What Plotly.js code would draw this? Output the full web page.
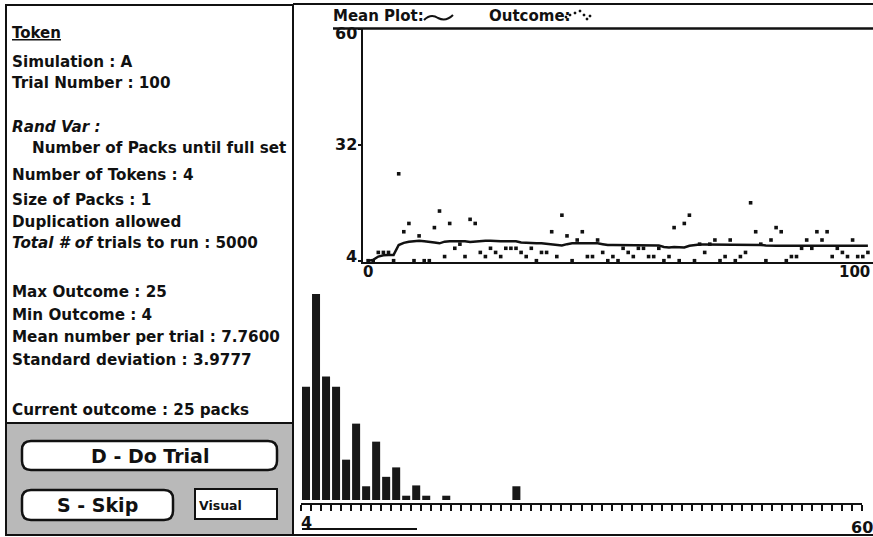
<!DOCTYPE html>
<html>
<head>
<meta charset="utf-8">
<script src="https://cdn.plot.ly/plotly-3.0.1.min.js"></script>
<style>
html,body{margin:0;padding:0;background:#fff;overflow:hidden;}
#chart{width:873px;height:537px;}
</style>
</head>
<body>
<div id="chart"></div>
<script>
// ---------- DATA ----------
const trials = [1,2,3,4,5,6,7,8,9,10,11,12,13,14,15,16,17,18,19,20,
  21,22,23,24,25,26,27,28,29,30,31,32,33,34,35,36,37,38,39,40,
  41,42,43,44,45,46,47,48,49,50,51,52,53,54,55,56,57,58,59,60,
  61,62,63,64,65,66,67,68,69,70,71,72,73,74,75,76,77,78,79,80,
  81,82,83,84,85,86,87,88,89,90,91,92,93,94,95,96,97,98,99];
const outcomes = [4,4,6,6,6,4,25,11,13,4, 10,4,4,12,16,5,13,7,8,5,
  14,13,6,5,7,6,5,7,7,7, 6,5,7,4,6,6,11,5,15,10,
  4,9,11,5,5,9,6,4,5,4, 7,6,5,7,7,5,5,7,4,5,
  12,4,13,15,4,8,6,8,9,4, 5,9,4,5,6,18,11,8,4,9,
  12,11,4,5,5,7,9,7,11,9, 11,5,7,6,5,9,5,5,6];
const meanPlot = [4.0,4.2,5.0,5.3,5.4,5.4,7.8,8.3,8.6,8.7, 8.8,8.7,8.6,8.4,8.2,8.6,8.7,8.7,8.8,8.7,
  8.5,8.6,8.8,8.8,8.8,8.7,8.7,8.7,8.7,8.7, 8.4,8.3,8.3,8.2,8.2,8.1,8.0,7.8,7.7,8.0,
  8.2,8.2,8.2,8.2,8.2,8.2,8.0,7.8,7.8,7.8, 7.8,7.8,7.8,7.8,7.8,7.8,7.8,7.7,7.3,7.2,
  7.3,7.3,7.2,7.6,7.8,7.9,7.9,7.9,7.9,7.9, 7.9,7.9,7.9,7.9,7.9,7.9,7.9,7.8,7.7,7.6,
  7.6,7.6,7.6,7.6,7.6,7.6,7.6,7.6,7.6,7.6, 7.6,7.6,7.6,7.6,7.6,7.6,7.6,7.6,7.6];
const histValues = [4,5,6,7,8,9,10,11,12,13,14,15,16,18,25];
const histHeights = [13.2,24,14.4,13.2,4.7,8.9,1.6,6.8,2.7,3.8,0.5,1.7,0.5,0.5,1.6];
const topYTicks = [4,32,60];
const topYLabels = ['4','32','60'];
const topXLabels = ['0','100'];
const histXLabels = ['4','60'];
const panelTitle = 'Token';
const panelLines = [
  'Simulation : A',
  'Trial Number : 100',
  '<i>Rand Var :</i>',
  'Number of Packs until full set',
  'Number of Tokens : 4',
  'Size of Packs : 1',
  'Duplication allowed',
  '<i>Total # of</i> trials to run : 5000',
  'Max Outcome : 25',
  'Min Outcome : 4',
  'Mean number per trial : 7.7600',
  'Standard deviation : 3.9777',
  'Current outcome : 25 packs'
];

// ---------- helpers (pixel -> paper) ----------
const W = 873, H = 537;
const px = x => x / W;
const py = y => 1 - y / H;
function P(x, y){ return px(x).toFixed(5) + ',' + py(y).toFixed(5); }
function rrect(x0,y0,x1,y1,r){
  return 'M' + P(x0+r,y0) + ' L' + P(x1-r,y0) + ' Q' + P(x1,y0) + ' ' + P(x1,y0+r) +
    ' L' + P(x1,y1-r) + ' Q' + P(x1,y1) + ' ' + P(x1-r,y1) +
    ' L' + P(x0+r,y1) + ' Q' + P(x0,y1) + ' ' + P(x0,y1-r) +
    ' L' + P(x0,y0+r) + ' Q' + P(x0,y0) + ' ' + P(x0+r,y0) + ' Z';
}
const FONT = 'DejaVu Sans, Verdana, sans-serif';
const black = '#111';

// ---------- traces ----------
const traces = [
  { type:'scatter', mode:'lines', x: trials, y: meanPlot, xaxis:'x', yaxis:'y',
    line:{color:black, width:2.5, shape:'linear'}, hoverinfo:'skip', showlegend:false },
  { type:'scatter', mode:'markers', x: trials, y: outcomes, xaxis:'x', yaxis:'y',
    marker:{color:black, size:3.6, symbol:'square'}, hoverinfo:'skip', showlegend:false, cliponaxis:false },
  { type:'bar', x: histValues, y: histHeights, xaxis:'x2', yaxis:'y2',
    width:0.8, offset:0.1, marker:{color:'#181818', line:{width:0}}, hoverinfo:'skip', showlegend:false }
];

// ---------- shapes ----------
const shapes = [];
function line(x0,y0,x1,y1,w){ shapes.push({type:'line', xref:'paper', yref:'paper', x0:px(x0), y0:py(y0), x1:px(x1), y1:py(y1), line:{color:black, width:w||2}}); }
function rect(x0,y0,x1,y1,fill,w){ shapes.push({type:'rect', xref:'paper', yref:'paper', x0:px(x0), y0:py(y0), x1:px(x1), y1:py(y1), fillcolor:fill, line:{color:black, width:w||2}}); }
rect(6,5,293,423,'#fff',2);
rect(6,423,293,535,'#b9b9b9',2);
shapes.push({type:'path', xref:'paper', yref:'paper', path: rrect(22,441,277,470,9), fillcolor:'#fff', line:{color:black,width:2.5}});
shapes.push({type:'path', xref:'paper', yref:'paper', path: rrect(22,490,173,520,9), fillcolor:'#fff', line:{color:black,width:2.5}});
rect(195,489,277,519,'#fff',2);
line(293,4,873,4,2);
line(333,28.5,873,28.5,2.5);
line(302,529,417,529,2);
line(293,535,873,535,2);
// legend squiggle for "Mean Plot"
shapes.push({type:'path', xref:'paper', yref:'paper', line:{color:black,width:2},
  path:'M' + P(424,20) + ' Q' + P(431,13) + ' ' + P(438,18) + ' Q' + P(446,22) + ' ' + P(453,15)});
// legend dots for "Outcome"
[[566,17],[570,15],[575,13],[580,11],[584,15],[587,19],[590,16]].forEach(d => {
  rect(d[0]-1,d[1]-1,d[0]+1,d[1]+1,black,0.5);
});

// ---------- annotations ----------
const ann = [];
const bold = s => ({family:FONT, size:s, color:black, weight:700});
function txt(t,x,y,size,opts){
  ann.push(Object.assign({text:t, xref:'paper', yref:'paper', x:px(x), y:py(y), xanchor:'left', yanchor:'middle',
    showarrow:false, font:bold(size)}, opts||{}));
}
txt('<u>' + panelTitle + '</u>', 10, 33, 15);
const panelY = [62,83,127,148,175,200,222,243,292,315,337,360,410];
panelLines.forEach((t,i) => txt(t, i===3 ? 30 : 10, panelY[i], 15.2));
txt('D - Do Trial', 149.5, 455.5, 19, {xanchor:'center'});
txt('S - Skip', 97.5, 505, 19, {xanchor:'center'});
txt('Visual', 197, 505, 12.5);
txt('Mean Plot:', 331, 16, 15);
txt('Outcome:', 487, 16, 15);
// top y-axis labels, placed on the axis scale
const yShift = [4, 0, -4];
topYTicks.forEach((v,i) => ann.push({text:topYLabels[i], xref:'x', yref:'y', x:0, y:v, xanchor:'right', yanchor:'middle',
  xshift:-4, yshift:yShift[i], showarrow:false, font:bold(16)}));
// axis end labels
ann.push({text:topXLabels[0], xref:'x', yref:'paper', x:0, y:py(272), xanchor:'left', yanchor:'middle', xshift:-2, showarrow:false, font:bold(15)});
ann.push({text:topXLabels[1], xref:'x', yref:'paper', x:100, y:py(272), xanchor:'right', yanchor:'middle', xshift:-1, showarrow:false, font:bold(15)});
ann.push({text:histXLabels[0], xref:'x2', yref:'paper', x:4, y:py(522), xanchor:'left', yanchor:'middle', xshift:-2, showarrow:false, font:bold(16)});
ann.push({text:histXLabels[1], xref:'x2', yref:'paper', x:60, y:py(527), xanchor:'center', yanchor:'middle', showarrow:false, font:bold(16)});

// ---------- layout ----------
const layout = {
  width: W, height: H,
  margin:{l:0,r:0,t:0,b:0, pad:0},
  paper_bgcolor:'#fff', plot_bgcolor:'rgba(0,0,0,0)',
  showlegend:false,
  font:{family:FONT, color:black},
  xaxis:{domain:[px(363),1], range:[0,100], anchor:'y', showline:true, linecolor:black, linewidth:2,
    showgrid:false, zeroline:false, showticklabels:false, ticks:''},
  yaxis:{domain:[py(262), py(29)], range:[3.686,60], anchor:'x', showline:true, linecolor:black, linewidth:2,
    showgrid:false, zeroline:false, ticks:'outside', ticklen:3, tickwidth:2, tickcolor:black,
    tickvals: topYTicks, showticklabels:false},
  xaxis2:{domain:[px(301), px(862)], range:[4,60], anchor:'y2', showline:true, linecolor:black, linewidth:2,
    showgrid:false, zeroline:false, showticklabels:false, ticks:'outside', ticklen:6, tickwidth:2, tickcolor:black,
    tick0:4, dtick:1},
  yaxis2:{domain:[py(503), py(280)], range:[-0.35,25.64], anchor:'x2', visible:false, showgrid:false, zeroline:false},
  shapes: shapes,
  annotations: ann
};

Plotly.newPlot('chart', traces, layout, {staticPlot:true, displayModeBar:false});
</script>
</body>
</html>
